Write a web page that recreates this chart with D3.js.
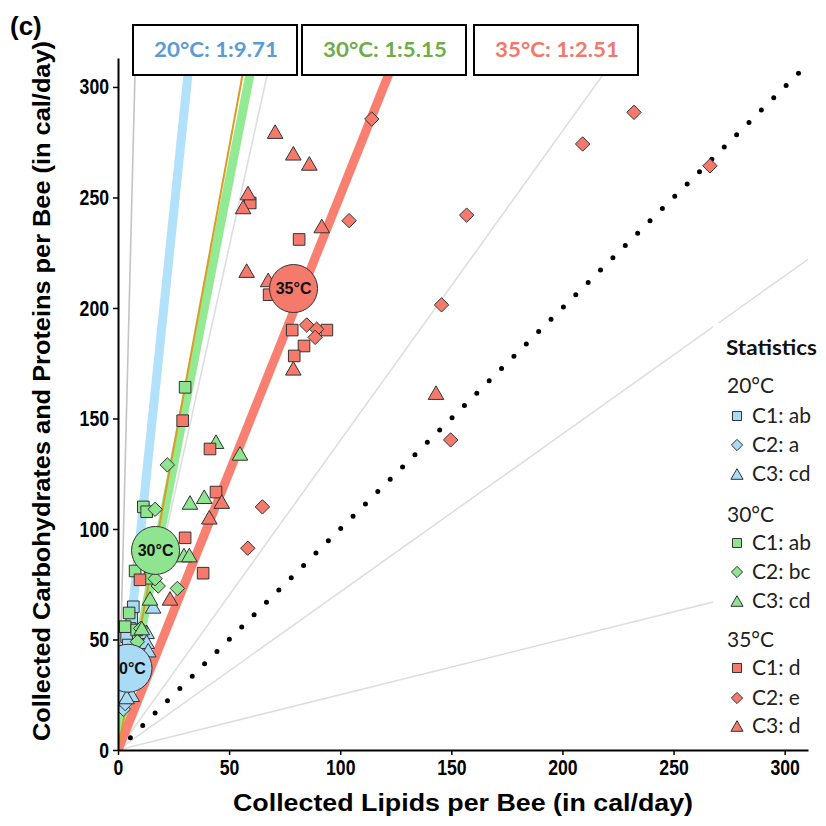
<!DOCTYPE html>
<html><head><meta charset="utf-8">
<script src="https://cdn.jsdelivr.net/npm/d3@7"></script>
<style>body{margin:0;background:#fff} svg{display:block}</style>
</head><body><svg id="c" width="826" height="826"></svg>
<script>
// ---- data ----
const xTicks = [0, 50, 100, 150, 200, 250, 300];
const yTicks = [0, 50, 100, 150, 200, 250, 300];
const groups = ["20°C", "30°C", "35°C"];
const ratioLabels = ["20°C: 1:9.71", "30°C: 1:5.15", "35°C: 1:2.51"];
const ratioSlopes = [9.71, 5.15, 2.51];
const orangeSlopes = [5.45];
const greySlopes = [40, 4.55, 1.4, 0.715, 0.25];
const identitySlope = [1];
const meanX = [4.5, 16.9, 79];
const meanY = [37, 90.3, 208.8];
const legendLetters = [["C1: ab", "C2: a", "C3: cd"], ["C1: ab", "C2: bc", "C3: cd"], ["C1: d", "C2: e", "C3: d"]];

const t20C1 = [[6.9,64.8],[6.2,59.5],[5.4,55],[3.9,51.3],[4.6,47.5]];
const t20C2 = [[2.4,18.5],[3.2,21],[11,47],[7,30]];
const t20C3 = [[12.9,53.5],[12.9,49],[13.6,45.2],[6.2,25],[3.9,24],[15.8,65]];
const t30C1 = [[30.2,164.1],[11.4,110],[12.9,107.8],[7.7,81],[14.4,77.7],[3.2,55.8],[8.4,54.3],[5,62]];
const t30C2 = [[22.2,129],[16.7,108.9],[18.1,74.2],[26.7,73.1],[10.2,55],[8.7,49],[16.7,77.5]];
const t30C3 = [[44.1,139.5],[54.9,134.2],[32.4,112],[38.8,114.6],[29.7,88.2],[32.1,88.2],[14.4,68.6],[10.7,55.2]];
const t35C1 = [[59.5,247.5],[81.5,231],[68,206],[78.4,190],[94,190],[83.7,182.8],[79.3,178.3],[29.1,149],[41.4,136.2],[44.1,116.7],[30.2,96],[38.3,80],[9.9,77]];
const t35C2 = [[114.2,285.5],[232.2,288.5],[209.1,274.2],[266.4,264.3],[156.9,242],[145.6,201.4],[149.7,140.3],[104,239.5],[84.9,192.3],[89.4,190.4],[88.7,186.7],[65,110],[58.4,91.3]];
const t35C3 = [[70.7,279.8],[78.9,270],[86.1,265.4],[58.5,252],[56.3,245.7],[91.7,237.1],[57.9,216.9],[67.6,212.7],[78.9,172.7],[143.1,161.7],[46.7,112.4],[41.1,105.3],[23.4,68.6]];

// ---- styles ----
const fillCol = ["#a9dbf6", "#8fe48f", "#f57a6c"];
const lineCol = ["#b2e1fb", "#93ea93", "#f97f71"];
const textCol = ["#5b9bd5", "#70ad47", "#f4776a"];
const seriesList = [
  {d: t20C1, g: 0, s: "square"}, {d: t20C2, g: 0, s: "diamond"}, {d: t20C3, g: 0, s: "triangle"},
  {d: t30C1, g: 1, s: "square"}, {d: t30C2, g: 1, s: "diamond"}, {d: t30C3, g: 1, s: "triangle"},
  {d: t35C1, g: 2, s: "square"}, {d: t35C2, g: 2, s: "diamond"}, {d: t35C3, g: 2, s: "triangle"}
];

const svg = d3.select("#c");
const x = d3.scaleLinear().domain([0, 310.5]).range([118, 808]);
const y = d3.scaleLinear().domain([0, 313.1]).range([750, 58]);
const [x0, x1] = x.range(), [y0, y1] = y.range();
const xmax = x.domain()[1], ymax = y.domain()[1];

svg.append("defs").append("clipPath").attr("id", "clip")
  .append("rect").attr("x", x0).attr("y", y1).attr("width", x1 - x0).attr("height", y0 - y1);

function shapePath(s, k) {
  if (s === "square") { const h = 5.8 * k; return `M${-h},${-h}H${h}V${h}H${-h}Z`; }
  if (s === "diamond") { const h = 7.2 * k; return `M0,${-h}L${h},0L0,${h}L${-h},0Z`; }
  const w = 7.8 * k, hh = 6.8 * k; return `M0,${-hh}L${w},${hh}L${-w},${hh}Z`;
}
function endPoint(s) { return s * xmax > ymax ? [ymax / s, ymax] : [xmax, s * xmax]; }
const line = d3.line().x(d => x(d[0])).y(d => y(d[1]));

const plot = svg.append("g").attr("clip-path", "url(#clip)");

// grey reference lines
plot.selectAll(".grey").data(greySlopes).join("path")
  .attr("d", s => line([[0, 0], endPoint(s)]))
  .attr("stroke", (s, i) => i === 0 ? "#c4c4c4" : "#dedede").attr("stroke-width", 1.6).attr("fill", "none");

// dotted 1:1
plot.selectAll(".ident").data(identitySlope).join("path")
  .attr("d", s => line([[0, 0], endPoint(s)]))
  .attr("stroke", "#000").attr("stroke-width", 5).attr("stroke-linecap", "round")
  .attr("stroke-dasharray", "0,17.45").attr("fill", "none");

// ratio lines
plot.selectAll(".ratio").data(ratioSlopes).join("path")
  .attr("d", s => line([[0, 0], endPoint(s)]))
  .attr("stroke", (s, i) => lineCol[i]).attr("stroke-width", 9).attr("fill", "none");
plot.selectAll(".orange").data(orangeSlopes).join("path")
  .attr("d", s => line([[0, 0], endPoint(s)]))
  .attr("stroke", "#dc9b22").attr("stroke-width", 2).attr("fill", "none");

// points
seriesList.forEach(ser => {
  plot.append("g").selectAll("path").data(ser.d).join("path")
    .attr("transform", d => `translate(${x(d[0])},${y(d[1])})`)
    .attr("d", shapePath(ser.s, 1))
    .attr("fill", fillCol[ser.g]).attr("stroke", "#333").attr("stroke-width", 1);
});

// means
const means = plot.selectAll(".mean").data(groups).join("g")
  .attr("transform", (g, i) => `translate(${x(meanX[i])},${y(meanY[i])})`);
means.append("circle").attr("r", 24).attr("fill", (g, i) => fillCol[i]).attr("stroke", "#333").attr("stroke-width", 1);
means.append("text").text(g => g).attr("text-anchor", "middle").attr("dy", "0.36em")
  .attr("font-family", "Liberation Sans, Arial, sans-serif").attr("font-weight", "bold").attr("font-size", 16).attr("fill", "#111");

// axes
const axFont = "'Liberation Sans Narrow', 'Liberation Sans', Arial, sans-serif";
const yAx = svg.append("g").attr("transform", `translate(${x0},0)`)
  .call(d3.axisLeft(y).tickValues(yTicks).tickSize(5).tickSizeOuter(0).tickPadding(4));
const xAx = svg.append("g").attr("transform", `translate(0,${y0})`)
  .call(d3.axisBottom(x).tickValues(xTicks).tickSize(5).tickSizeOuter(0).tickPadding(4));
[yAx, xAx].forEach(a => {
  a.select(".domain").attr("stroke", "#000").attr("stroke-width", 2);
  a.selectAll(".tick line").attr("stroke", "#000").attr("stroke-width", 1.5);
  a.selectAll(".tick text").attr("font-family", axFont).attr("font-weight", "bold")
    .attr("font-size", 22).attr("fill", "#000")
    .attr("textLength", function() { return this.textContent.length * 9.8; })
    .attr("lengthAdjust", "spacingAndGlyphs");
});

// axis titles
svg.append("text").text("Collected Lipids per Bee (in cal/day)")
  .attr("x", 463).attr("y", 811).attr("text-anchor", "middle")
  .attr("font-family", axFont).attr("font-weight", "bold").attr("font-size", 23)
  .attr("textLength", 460).attr("lengthAdjust", "spacingAndGlyphs");
svg.append("text").text("Collected Carbohydrates and Proteins per Bee (in cal/day)")
  .attr("transform", "translate(50,391) rotate(-90)").attr("text-anchor", "middle")
  .attr("font-family", axFont).attr("font-weight", "bold").attr("font-size", 23)
  .attr("textLength", 700).attr("lengthAdjust", "spacingAndGlyphs");
svg.append("text").text("(c)").attr("x", 10).attr("y", 35)
  .attr("font-family", "Liberation Sans, Arial, sans-serif").attr("font-weight", "bold").attr("font-size", 26);

// ratio boxes
const boxX = [133, 302, 474];
const boxes = svg.selectAll(".box").data(ratioLabels).join("g")
  .attr("transform", (d, i) => `translate(${boxX[i]},25)`);
boxes.append("rect").attr("width", 164).attr("height", 50).attr("fill", "#fff").attr("stroke", "#000").attr("stroke-width", 2);
boxes.append("text").text(d => d).attr("x", 83).attr("y", 32).attr("text-anchor", "middle")
  .attr("font-family", "Lato, 'Open Sans', sans-serif").attr("font-weight", "bold").attr("font-size", 20)
  .attr("textLength", 124).attr("lengthAdjust", "spacingAndGlyphs")
  .attr("fill", (d, i) => textCol[i]);

// legend
const lg = svg.append("g");
lg.append("rect").attr("x", 713).attr("y", 323).attr("width", 113).attr("height", 417).attr("fill", "#fff");
lg.append("text").text("Statistics").attr("x", 726).attr("y", 355)
  .attr("font-family", "Lato, 'Open Sans', sans-serif").attr("font-weight", "bold").attr("font-size", 20)
  .attr("textLength", 91).attr("lengthAdjust", "spacingAndGlyphs").attr("fill", "#111");
const headerY = [386, 515, 640];
const itemY = [[416, 445, 474], [543, 572, 601], [668, 698, 726]];
const legShapes = ["square", "diamond", "triangle"];
groups.forEach((g, gi) => {
  lg.append("text").text(g).attr("x", 727).attr("y", headerY[gi]).attr("dy", "0.35em")
    .attr("font-family", "Lato, 'Open Sans', sans-serif").attr("font-size", 21).attr("fill", "#222");
  legendLetters[gi].forEach((t, k) => {
    lg.append("path").attr("transform", `translate(737,${itemY[gi][k]})`)
      .attr("d", shapePath(legShapes[k], 0.78))
      .attr("fill", fillCol[gi]).attr("stroke", "#333").attr("stroke-width", 1);
    lg.append("text").text(t).attr("x", 752).attr("y", itemY[gi][k]).attr("dy", "0.35em")
      .attr("font-family", "Lato, 'Open Sans', sans-serif").attr("font-size", 21).attr("fill", "#222");
  });
});
</script></body></html>
